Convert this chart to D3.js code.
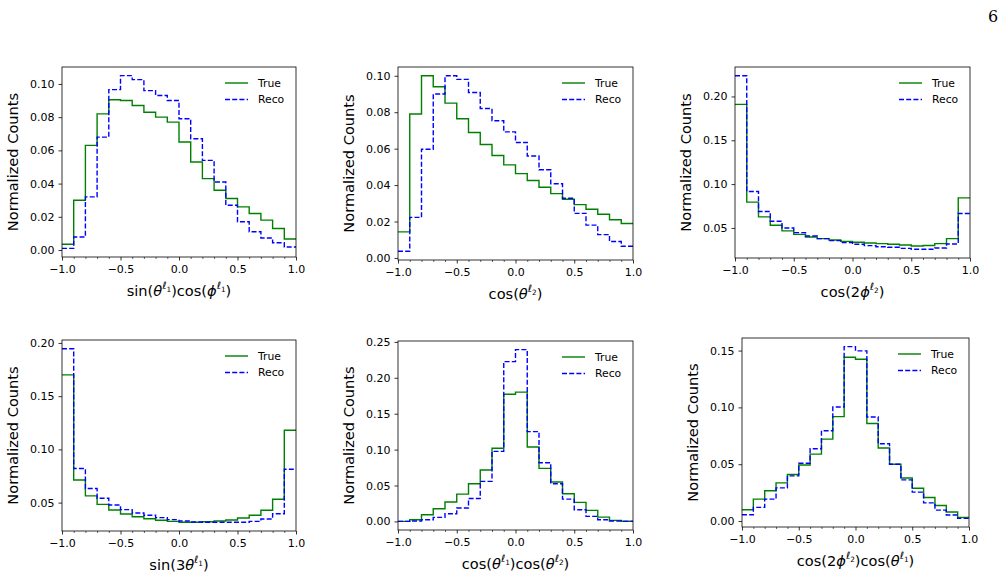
<!DOCTYPE html>
<html>
<head>
<meta charset="utf-8">
<script src="https://cdnjs.cloudflare.com/ajax/libs/d3/7.8.5/d3.min.js"></script>
<style>
  body { margin: 0; background: #fff; }
  svg { display: block; font-family: "DejaVu Sans", sans-serif; }
</style>
</head>
<body>
<svg id="fig" width="1006" height="578"></svg>
<script>
// bin left edges (bins are 0.1 wide, -1 .. 1)
var binEdges = [-1.0, -0.9, -0.8, -0.7, -0.6, -0.5, -0.4, -0.3, -0.2, -0.1,
                 0.0, 0.1, 0.2, 0.3, 0.4, 0.5, 0.6, 0.7, 0.8, 0.9, 1.0];
var xTicks = [-1.0, -0.5, 0.0, 0.5, 1.0];
var xMinorTicks = [-0.9, -0.8, -0.7, -0.6, -0.4, -0.3, -0.2, -0.1,
                   0.1, 0.2, 0.3, 0.4, 0.6, 0.7, 0.8, 0.9];
var seriesNames = ["True", "Reco"];

// panel 1: sin(theta l1) cos(phi l1)
var p1True = [0.0035, 0.030, 0.063, 0.082, 0.0905, 0.090, 0.087, 0.083, 0.080, 0.077,
              0.065, 0.053, 0.043, 0.036, 0.031, 0.026, 0.022, 0.018, 0.013, 0.0066];
var p1Reco = [0.0010, 0.0078, 0.032, 0.068, 0.0966, 0.105, 0.1026, 0.096, 0.093, 0.090,
              0.079, 0.067, 0.054, 0.041, 0.027, 0.017, 0.011, 0.0072, 0.0044, 0.0018];
var p1YTicks = [0.00, 0.02, 0.04, 0.06, 0.08, 0.10];

// panel 2: cos(theta l2)
var p2True = [0.0143, 0.079, 0.100, 0.094, 0.085, 0.0764, 0.0689, 0.0623, 0.0562, 0.0511,
              0.0463, 0.0425, 0.0388, 0.0353, 0.0322, 0.0293, 0.0267, 0.024, 0.021, 0.0189];
var p2Reco = [0.0037, 0.0223, 0.0597, 0.090, 0.100, 0.098, 0.0908, 0.082, 0.0753, 0.0692,
              0.0634, 0.056, 0.0484, 0.0407, 0.0328, 0.0245, 0.018, 0.0128, 0.009, 0.0064];
var p2YTicks = [0.00, 0.02, 0.04, 0.06, 0.08, 0.10];

// panel 3: cos(2 phi l2)
var p3True = [0.191, 0.0794, 0.0626, 0.053, 0.0466, 0.0427, 0.0397, 0.0378, 0.0363, 0.0347,
              0.0336, 0.0328, 0.0321, 0.0313, 0.0305, 0.0294, 0.030, 0.0321, 0.0378, 0.0843];
var p3Reco = [0.2237, 0.0916, 0.0687, 0.0576, 0.050, 0.0447, 0.0408, 0.0378, 0.0355, 0.0332,
              0.0313, 0.0298, 0.0286, 0.0279, 0.0267, 0.0256, 0.0256, 0.0271, 0.0317, 0.0664];
var p3YTicks = [0.05, 0.10, 0.15, 0.20];

// panel 4: sin(3 theta l1)
var p4True = [0.170, 0.0713, 0.0563, 0.0484, 0.0431, 0.0393, 0.0368, 0.0349, 0.0334, 0.0324,
              0.0315, 0.0315, 0.0321, 0.0327, 0.0337, 0.0356, 0.0381, 0.0428, 0.0531, 0.118];
var p4Reco = [0.1946, 0.082, 0.0632, 0.0541, 0.0478, 0.0434, 0.0403, 0.0381, 0.0359, 0.034,
              0.0327, 0.0318, 0.0315, 0.0315, 0.0315, 0.0315, 0.0324, 0.0346, 0.0396, 0.0814];
var p4YTicks = [0.05, 0.10, 0.15, 0.20];

// panel 5: cos(theta l1) cos(theta l2)
var p5True = [0.0, 0.0023, 0.0093, 0.0177, 0.027, 0.038, 0.0525, 0.0716, 0.1018, 0.177,
              0.180, 0.1036, 0.0739, 0.0548, 0.0386, 0.0265, 0.0153, 0.006, 0.0014, 0.0002];
var p5Reco = [0.0, 0.0005, 0.0023, 0.0056, 0.0107, 0.0186, 0.032, 0.0558, 0.0976, 0.2226,
              0.2393, 0.125, 0.0818, 0.0525, 0.0311, 0.0163, 0.007, 0.0023, 0.0005, 0.0001];
var p5YTicks = [0.00, 0.05, 0.10, 0.15, 0.20, 0.25];

// panel 6: cos(2 phi l2) cos(theta l1)
var p6True = [0.0099, 0.0193, 0.0266, 0.0336, 0.0409, 0.0493, 0.0589, 0.0721, 0.0919, 0.1441,
              0.1424, 0.0858, 0.0642, 0.0499, 0.0379, 0.0289, 0.0207, 0.0137, 0.0079, 0.0032];
var p6Reco = [0.0055, 0.012, 0.0193, 0.0292, 0.0397, 0.0508, 0.0636, 0.0794, 0.1004, 0.1535,
              0.1497, 0.0916, 0.068, 0.0499, 0.0362, 0.0254, 0.016, 0.0096, 0.0053, 0.0023];
var p6YTicks = [0.00, 0.05, 0.10, 0.15];

// x-axis labels as [text, kind] runs (kind: n normal, i italic, sup, sub)
var p1Label = [["sin(", "n"], ["θ", "i"], ["ℓ", "sup"], ["1", "sub"], [")cos(", "n"], ["ϕ", "i"], ["ℓ", "sup"], ["1", "sub"], [")", "n"]];
var p2Label = [["cos(", "n"], ["θ", "i"], ["ℓ", "sup"], ["2", "sub"], [")", "n"]];
var p3Label = [["cos(2", "n"], ["ϕ", "i"], ["ℓ", "sup"], ["2", "sub"], [")", "n"]];
var p4Label = [["sin(3", "n"], ["θ", "i"], ["ℓ", "sup"], ["1", "sub"], [")", "n"]];
var p5Label = [["cos(", "n"], ["θ", "i"], ["ℓ", "sup"], ["1", "sub"], [")cos(", "n"], ["θ", "i"], ["ℓ", "sup"], ["2", "sub"], [")", "n"]];
var p6Label = [["cos(2", "n"], ["ϕ", "i"], ["ℓ", "sup"], ["2", "sub"], [")cos(", "n"], ["θ", "i"], ["ℓ", "sup"], ["1", "sub"], [")", "n"]];

/** Panel boxes on the page (each panel was its own image) */
var panels = [
    {t: p1True, r: p1Reco, yt: p1YTicks, yf: ".2f", lab: p1Label, box: [62, 67, 296, 257]},
    {t: p2True, r: p2Reco, yt: p2YTicks, yf: ".2f", lab: p2Label, box: [398, 67, 633, 260]},
    {t: p3True, r: p3Reco, yt: p3YTicks, yf: ".2f", lab: p3Label, box: [735, 67, 970, 258]},
    {t: p4True, r: p4Reco, yt: p4YTicks, yf: ".2f", lab: p4Label, box: [62, 340, 296, 531]},
    {t: p5True, r: p5Reco, yt: p5YTicks, yf: ".2f", lab: p5Label, box: [398, 341, 633, 530]},
    {t: p6True, r: p6Reco, yt: p6YTicks, yf: ".2f", lab: p6Label, box: [742, 338, 969, 527]}
];

var colorScale = d3.scaleOrdinal().domain(seriesNames).range(["#008000", "#0000ff"]);
var tickFont = 11,
    legendFont = 10.8,
    labelFont = 14.6;

var svg = d3.select("#fig");

// page number
svg.append("text")
    .attr("x", 993).attr("y", 22)
    .attr("text-anchor", "middle")
    .style("font-family", "'DejaVu Serif', 'Liberation Serif', serif")
    .style("font-size", "16px")
    .text("6");

panels.forEach(drawPanel);

function drawPanel(p){
    var x0 = p.box[0], y0 = p.box[1], x1 = p.box[2], y1 = p.box[3];
    var all = p.t.concat(p.r);
    var lo = d3.min(all), hi = d3.max(all), pad = (hi - lo) * 0.05;

    var x = d3.scaleLinear().domain([-1, 1]).range([x0, x1]);
    var y = d3.scaleLinear().domain([lo - pad, hi + pad]).range([y1, y0]);

    var g = svg.append("g");

    // minor x ticks
    g.append("g")
        .attr("transform", "translate(0," + y1 + ")")
        .call(d3.axisBottom(x).tickValues(xMinorTicks).tickFormat("").tickSize(2).tickSizeOuter(0))
        .call(function(a){ a.select(".domain").remove(); })
        .selectAll("line").attr("stroke", "#000").attr("stroke-width", 0.6);

    // major x ticks
    var xa = g.append("g")
        .attr("transform", "translate(0," + y1 + ")")
        .call(d3.axisBottom(x).tickValues(xTicks).tickFormat(d3.format(".1f"))
            .tickSize(3.5).tickPadding(4.5).tickSizeOuter(0));
    xa.select(".domain").remove();
    xa.selectAll("line").attr("stroke", "#000").attr("stroke-width", 0.8);
    xa.selectAll("text").attr("fill", "#000")
        .style("font-family", "DejaVu Sans").style("font-size", tickFont + "px");

    var ya = g.append("g")
        .attr("transform", "translate(" + x0 + ",0)")
        .call(d3.axisLeft(y).tickValues(p.yt).tickFormat(d3.format(p.yf))
            .tickSize(3.5).tickPadding(4).tickSizeOuter(0));
    ya.select(".domain").remove();
    ya.selectAll("line").attr("stroke", "#000").attr("stroke-width", 0.8);
    ya.selectAll("text").attr("fill", "#000")
        .style("font-family", "DejaVu Sans").style("font-size", tickFont + "px");

    // histogram steps
    var line = d3.line()
        .x(function(d){ return x(d[0]); })
        .y(function(d){ return y(d[1]); })
        .curve(d3.curveStepAfter);

    [p.t, p.r].forEach(function(vals, k){
        var pts = binEdges.map(function(e, i){ return [e, vals[Math.min(i, vals.length - 1)]]; });
        g.append("path")
            .attr("d", line(pts))
            .attr("fill", "none")
            .attr("stroke", colorScale(seriesNames[k]))
            .attr("stroke-width", 1.4)
            .attr("stroke-dasharray", k === 1 ? "5,2.2" : null);
    });

    // frame
    g.append("rect")
        .attr("x", x0).attr("y", y0)
        .attr("width", x1 - x0).attr("height", y1 - y0)
        .attr("fill", "none").attr("stroke", "#000").attr("stroke-width", 0.8);

    // legend
    var leg = g.selectAll(".legend")
        .data(seriesNames)
        .enter().append("g")
        .attr("class", "legend")
        .attr("transform", function(d, i){ return "translate(" + (x1 - 71) + "," + (y0 + 16 + i * 16.5) + ")"; });
    leg.append("line")
        .attr("x1", 0).attr("x2", 23).attr("y1", 0).attr("y2", 0)
        .attr("stroke", colorScale)
        .attr("stroke-width", 1.4)
        .attr("stroke-dasharray", function(d, i){ return i === 1 ? "5,2.2" : null; });
    leg.append("text")
        .attr("x", 33).attr("y", 0).attr("dy", "0.35em")
        .style("font-size", legendFont + "px")
        .text(function(d){ return d; });

    // y label
    svg.append("text")
        .attr("transform", "translate(" + (x0 - 49) + "," + ((y0 + y1) / 2) + ") rotate(-90)")
        .attr("text-anchor", "middle").attr("dy", "0.35em")
        .style("font-size", labelFont + "px")
        .text("Normalized Counts");

    // x label (math runs)
    var xl = svg.append("text")
        .attr("x", (x0 + x1) / 2).attr("y", y1 + 39)
        .attr("text-anchor", "middle")
        .style("font-size", labelFont + "px");
    var shift = 0;
    p.lab.forEach(function(run){
        var size = labelFont, target = 0, italic = false;
        if (run[1] === "i") italic = true;
        if (run[1] === "sup") { size = labelFont * 0.7; target = -0.45 * labelFont; italic = true; }
        if (run[1] === "sub") { size = labelFont * 0.5; target = -0.3 * labelFont; }
        xl.append("tspan")
            .attr("dy", target - shift)
            .style("font-size", size + "px")
            .style("font-style", italic ? "italic" : "normal")
            .text(run[0]);
        shift = target;
    });
}
</script>
</body>
</html>
